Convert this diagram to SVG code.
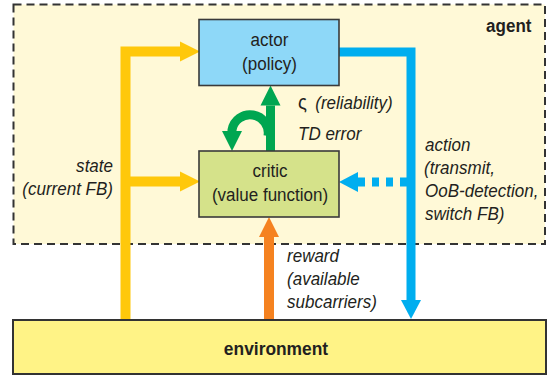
<svg xmlns="http://www.w3.org/2000/svg" width="551" height="377" viewBox="0 0 551 377">
<style>
text{font-family:"Liberation Sans",Arial,sans-serif;fill:#231F20}
.lbl{font-style:italic;font-size:18.5px}
.bx{font-size:19px}
.b{font-weight:bold;font-size:18.5px}
.box{stroke:#3a3a3a;stroke-width:1.6}
.conn{fill:none;stroke-linejoin:miter;stroke-linecap:butt}
.y{stroke:#FFC80B;stroke-width:10}
.bl{stroke:#00AEEF;stroke-width:9}
.g{stroke:#00A651;stroke-width:9}
.o{stroke:#F58220;stroke-width:10}
</style>
<defs>
<marker id="hy" markerUnits="userSpaceOnUse" markerWidth="20" markerHeight="20" refX="0" refY="10" orient="auto" overflow="visible"><path d="M0,0 L20,10 L0,20 z" fill="#FFC80B"/></marker>
<marker id="hb" markerUnits="userSpaceOnUse" markerWidth="20" markerHeight="20" refX="0" refY="10" orient="auto" overflow="visible"><path d="M0,0 L19,10 L0,20 z" fill="#00AEEF"/></marker>
<marker id="hg" markerUnits="userSpaceOnUse" markerWidth="20" markerHeight="20" refX="0" refY="10" orient="auto" overflow="visible"><path d="M0,0 L20,10 L0,20 z" fill="#00A651"/></marker>
<marker id="ho" markerUnits="userSpaceOnUse" markerWidth="20" markerHeight="20" refX="0" refY="10" orient="auto" overflow="visible"><path d="M0,0 L20,10 L0,20 z" fill="#F58220"/></marker>
</defs>
<rect width="551" height="377" fill="#ffffff"/>
<g id="agent">
<rect x="13.5" y="4.5" width="531.5" height="239.5" fill="#FFF9D7" stroke="#333" stroke-width="2" stroke-dasharray="8 5"/>
<text class="b" transform="matrix(0.92 0 0 1 531.5 32)" text-anchor="end">agent</text>
</g>
<g id="connectors">
<path class="conn y" d="M125.5,320 V51.5 H180" marker-end="url(#hy)"/>
<path class="conn y" d="M125.5,181.5 H180" marker-end="url(#hy)"/>
<path class="conn bl" d="M339,52 H411 V300" marker-end="url(#hb)"/>
<path class="conn bl" d="M407,182 H358" stroke-dasharray="7 7" marker-end="url(#hb)"/>
<path class="conn g" d="M270.5,151 V105.5" marker-end="url(#hg)"/>
<path class="conn g" d="M268,136 A18,18 0 0 0 232,130 V131" marker-end="url(#hg)"/>
<path class="conn o" d="M269,320 V237" marker-end="url(#ho)"/>
</g>
<g id="actor">
<rect class="box" x="199" y="19.5" width="140" height="66" fill="#8ED8F8"/>
<text class="bx" transform="matrix(0.895 0 0 1 269.5 46)" text-anchor="middle">actor</text>
<text class="bx" transform="matrix(0.895 0 0 1 269.5 70)" text-anchor="middle">(policy)</text>
</g>
<g id="critic">
<rect class="box" x="199" y="151" width="140" height="66" fill="#D5E28A"/>
<text class="bx" transform="matrix(0.895 0 0 1 270 177)" text-anchor="middle">critic</text>
<text class="bx" transform="matrix(0.895 0 0 1 270 200.5)" text-anchor="middle">(value function)</text>
</g>
<g id="environment">
<rect x="13" y="320" width="533" height="54" fill="#FFF386" stroke="#333" stroke-width="2"/>
<text class="b" transform="matrix(0.94 0 0 1 276 354.5)" text-anchor="middle">environment</text>
</g>
<g id="labels">
<text class="lbl" transform="matrix(0.92 0 0 1 113 171.5)" text-anchor="end">state</text>
<text class="lbl" transform="matrix(0.92 0 0 1 113 194.5)" text-anchor="end">(current FB)</text>
<text class="lbl" transform="matrix(0.92 0 0 1 298 109)"><tspan font-style="normal" font-size="20px">ς</tspan> <tspan dx="4">(reliability)</tspan></text>
<text class="lbl" transform="matrix(0.92 0 0 1 298 139.5)">TD error</text>
<text class="lbl" transform="matrix(0.92 0 0 1 425 150.5)">action</text>
<text class="lbl" transform="matrix(0.92 0 0 1 424 173.5)">(transmit,</text>
<text class="lbl" transform="matrix(0.92 0 0 1 425 196.5)">OoB-detection,</text>
<text class="lbl" transform="matrix(0.92 0 0 1 425 219.5)">switch FB)</text>
<text class="lbl" transform="matrix(0.92 0 0 1 287 261.5)">reward</text>
<text class="lbl" transform="matrix(0.92 0 0 1 287 284.5)">(available</text>
<text class="lbl" transform="matrix(0.92 0 0 1 287 307.5)">subcarriers)</text>
</g>
</svg>
